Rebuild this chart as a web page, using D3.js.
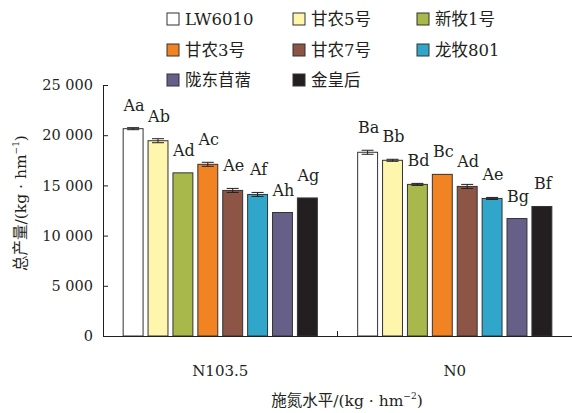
<!DOCTYPE html>
<html>
<head>
<meta charset="utf-8">
<script src="https://cdn.jsdelivr.net/npm/d3@7"></script>
<style>
  body { margin: 0; background: #fff; }
  svg text { font-family: "DejaVu Serif", "Noto Sans CJK SC", serif; fill: #231f20; }
</style>
</head>
<body>
<svg id="chart" width="572" height="413"></svg>
<script>
// nitrogen levels and cultivars
var levels = ["N103.5", "N0"]
var cultivars = ["LW6010", "甘农5号", "新牧1号", "甘农3号", "甘农7号", "龙牧801", "陇东苜蓿", "金皇后"]
var colors = ["#ffffff", "#fff6ae", "#a9b84a", "#f28322", "#8c5545", "#31a6cb", "#666089", "#231f20"]

// total yield (kg/hm2), error and letters per level
var yieldN103 = [20650, 19450, 16250, 17100, 14500, 14100, 12300, 13750]
var yieldN0 = [18300, 17500, 15100, 16100, 14900, 13700, 11700, 12900]
var errN103 = [100, 200, 0, 200, 200, 200, 0, 0]
var errN0 = [200, 100, 100, 0, 200, 100, 0, 0]
var lettersN103 = ["Aa", "Ab", "Ad", "Ac", "Ae", "Af", "Ah", "Ag"]
var lettersN0 = ["Ba", "Bb", "Bd", "Bc", "Ad", "Ae", "Bg", "Bf"]
var yTicks = [0, 5000, 10000, 15000, 20000, 25000]

var rows = []
levels.forEach(function (lv, li) {
    var vals = li === 0 ? yieldN103 : yieldN0
    var errs = li === 0 ? errN103 : errN0
    var lets = li === 0 ? lettersN103 : lettersN0
    cultivars.forEach(function (c, ci) {
        rows.push({ level: lv, cultivar: c, value: vals[ci], err: errs[ci], letter: lets[ci], color: colors[ci] })
    })
})

var svg = d3.select("#chart")

var plotLeft = 103, plotRight = 572, plotTop = 85, plotBottom = 336

var x0 = d3.scaleBand().domain(levels).range([plotLeft, plotRight])
var x1 = d3.scaleBand().domain(cultivars)
            .range([0, x0.bandwidth()])
            .paddingInner(0.2)
            .paddingOuter(0.81)
var y = d3.scaleLinear().domain([0, 25000]).range([plotBottom, plotTop])

var fmt = function (d) { return d3.format(",")(d).replace(",", " ") }

// y axis
var yAxis = svg.append("g")
    .attr("transform", "translate(" + plotLeft + ",0)")
    .call(d3.axisLeft(y).tickValues(yTicks).tickSizeInner(-5).tickSizeOuter(0).tickPadding(10).tickFormat(fmt))
yAxis.select(".domain").attr("stroke", "#231f20")
yAxis.selectAll(".tick line").attr("stroke", "#231f20")
yAxis.selectAll("text").attr("font-size", 14.5).attr("fill", "#231f20")

// bars
var bars = svg.append("g")
bars.selectAll("rect")
    .data(rows)
    .enter()
    .append("rect")
    .attr("x", function (d) { return x0(d.level) + x1(d.cultivar) })
    .attr("y", function (d) { return y(d.value) })
    .attr("width", x1.bandwidth())
    .attr("height", function (d) { return plotBottom - y(d.value) })
    .attr("fill", function (d) { return d.color })
    .attr("stroke", "#333")
    .attr("stroke-width", 1)

// error bars
var errG = svg.append("g").attr("stroke", "#231f20").attr("stroke-width", 1)
rows.filter(function (d) { return d.err > 0 }).forEach(function (d) {
    var cx = x0(d.level) + x1(d.cultivar) + x1.bandwidth() / 2
    errG.append("line").attr("x1", cx).attr("x2", cx)
        .attr("y1", y(d.value + d.err)).attr("y2", y(d.value - d.err))
    errG.append("line").attr("x1", cx - 6).attr("x2", cx + 6)
        .attr("y1", y(d.value + d.err)).attr("y2", y(d.value + d.err))
    errG.append("line").attr("x1", cx - 6).attr("x2", cx + 6)
        .attr("y1", y(d.value - d.err)).attr("y2", y(d.value - d.err))
})

// significance letters
svg.append("g").selectAll("text")
    .data(rows)
    .enter()
    .append("text")
    .attr("x", function (d) { return x0(d.level) + x1(d.cultivar) + x1.bandwidth() / 2 + 1 })
    .attr("y", function (d) { return y(d.value + d.err) - 17 })
    .attr("text-anchor", "middle")
    .attr("font-size", 16)
    .text(function (d) { return d.letter })

// x axis
var xAxis = svg.append("g")
    .attr("transform", "translate(0," + plotBottom + ")")
    .call(d3.axisBottom(x0).tickSize(0).tickPadding(29))
xAxis.select(".domain").attr("stroke", "#231f20")
xAxis.selectAll("text").attr("font-size", 15).attr("fill", "#231f20")
// middle separator tick
xAxis.append("line")
    .attr("x1", x0("N0")).attr("x2", x0("N0"))
    .attr("y1", 0).attr("y2", -5)
    .attr("stroke", "#231f20")

// axis titles
var xt = svg.append("text")
    .attr("x", 347).attr("y", 406)
    .attr("text-anchor", "middle")
    .attr("font-size", 15.5)
xt.append("tspan").text("施氮水平/(kg · hm")
xt.append("tspan").attr("font-size", 9).attr("dy", -7).text("−2")
xt.append("tspan").attr("dy", 7).text(")")

var yt = svg.append("text")
    .attr("transform", "translate(26,203) rotate(-90)")
    .attr("text-anchor", "middle")
    .attr("font-size", 15.5)
yt.append("tspan").text("总产量/(kg · hm")
yt.append("tspan").attr("font-size", 9).attr("dy", -7).text("−1")
yt.append("tspan").attr("dy", 7).text(")")

// legend
var legCols = [167, 293, 417]
var legRows = [19, 50, 80]
var leg = svg.append("g")
cultivars.forEach(function (c, i) {
    var lx = legCols[i % 3], ly = legRows[Math.floor(i / 3)]
    leg.append("rect")
        .attr("x", lx).attr("y", ly - 6)
        .attr("width", 12).attr("height", 12)
        .attr("fill", colors[i])
        .attr("stroke", "#333")
    leg.append("text")
        .attr("x", lx + 18).attr("y", ly + 6)
        .attr("font-size", 16.5)
        .text(c)
})
</script>
</body>
</html>
